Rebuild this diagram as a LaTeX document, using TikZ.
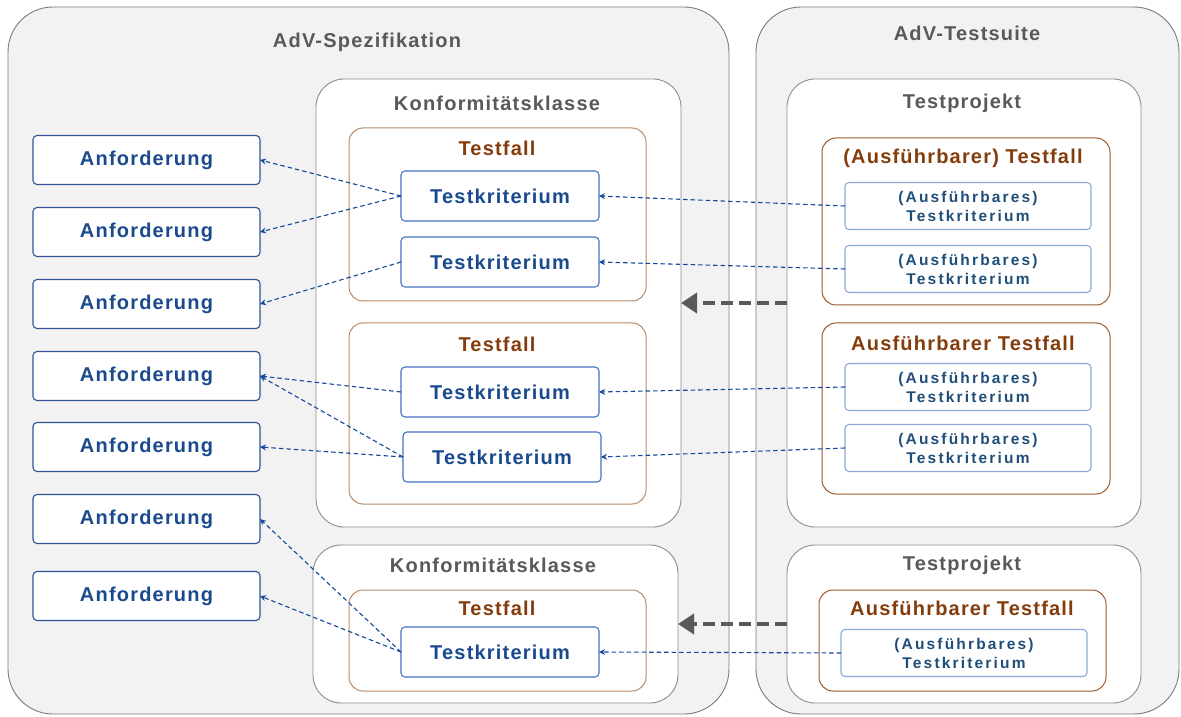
\documentclass[tikz,border=0pt]{standalone}
\usepackage{fontspec}
\setmainfont{Liberation Sans}
\newfontfamily\boxfont[LetterSpace=6]{Liberation Sans}
\newfontfamily\smallboxfont[LetterSpace=14]{Liberation Sans}
\usetikzlibrary{arrows.meta}
\definecolor{Panel}{HTML}{F2F2F2}
\definecolor{Frame}{HTML}{7A7A7A}
\definecolor{Inner}{HTML}{8C8C8C}
\definecolor{Title}{HTML}{595959}
\definecolor{Case}{HTML}{B98A66}
\definecolor{CaseDark}{HTML}{9E5A2E}
\definecolor{CaseText}{HTML}{843C0C}
\definecolor{Req}{HTML}{2F5597}
\definecolor{ReqText}{HTML}{1A4A8E}
\definecolor{Crit}{HTML}{4472C4}
\definecolor{CritLight}{HTML}{8EAADB}
\definecolor{CritText}{HTML}{1F4E79}
\definecolor{Link}{HTML}{14489A}
\definecolor{Big}{HTML}{5A5A5A}
\begin{document}
\begin{tikzpicture}[x=1pt,y=1pt,
  panel/.style={draw=Frame,fill=Panel,line width=0.9pt,rounded corners=45pt,inner sep=0pt,outer sep=0pt},
  group/.style={draw=Inner,fill=white,line width=0.9pt,rounded corners=28pt,inner sep=0pt,outer sep=0pt},
  casebox/.style={draw=Case,fill=white,line width=1pt,rounded corners=14pt,inner sep=0pt,outer sep=0pt},
  title/.style={font=\boxfont\bfseries\fontsize{20}{24}\selectfont,text=Title},
  casetitle/.style={font=\boxfont\bfseries\fontsize{20}{24}\selectfont,text=CaseText},
  req/.style={draw=Req,fill=white,line width=1.1pt,rounded corners=4pt,minimum width=227pt,minimum height=49pt,inner sep=0pt,outer sep=0pt,font=\boxfont\bfseries\fontsize{20}{24}\selectfont,text=ReqText},
  crit/.style={draw=Crit,fill=white,line width=1.1pt,rounded corners=4pt,minimum width=198pt,minimum height=50pt,inner sep=0pt,outer sep=0pt,font=\boxfont\bfseries\fontsize{20}{24}\selectfont,text=ReqText},
  xcrit/.style={draw=CritLight,fill=white,line width=1.1pt,rounded corners=4pt,minimum width=246pt,minimum height=47pt,inner sep=0pt,outer sep=0pt,align=center,font=\smallboxfont\bfseries\fontsize{15.5}{19}\selectfont,text=CritText},
  link/.style={draw=Link,line width=1.1pt,dash pattern=on 4.5pt off 3pt,-{Stealth[length=6pt,width=6pt]}},
  bigarrow/.style={draw=Big,line width=4pt,dash pattern=on 12pt off 6pt,-{Triangle[length=16pt,width=20pt]}}]
\useasboundingbox (0,0) rectangle (1181,716);
\node[panel,minimum width=721pt,minimum height=707pt] (spez) at (368.5,355.5) {};
\node[panel,minimum width=423pt,minimum height=707pt] (suite) at (967.5,355.5) {};
\node[title] (spezt) at (367,674) {AdV-Spezifikation};
\node[title] (suitet) at (967,683) {AdV-Testsuite};
\node[group,minimum width=365pt,minimum height=448pt] (konf1) at (498.5,413) {};
\node[group,minimum width=365pt,minimum height=158pt] (konf2) at (495.5,92) {};
\node[group,minimum width=354pt,minimum height=448pt] (tp1) at (964,413) {};
\node[group,minimum width=354pt,minimum height=158pt] (tp2) at (964,92) {};
\node[title] (konf1t) at (497,613) {Konformitätsklasse};
\node[title] (konf2t) at (493,151) {Konformitätsklasse};
\node[title] (tp1t) at (962,613) {Testprojekt};
\node[title] (tp2t) at (962,151) {Testprojekt};
\node[casebox,minimum width=297pt,minimum height=173pt] (tf1) at (497.5,501.5) {};
\node[casebox,minimum width=297pt,minimum height=181pt] (tf2) at (497.5,302.5) {};
\node[casebox,minimum width=297pt,minimum height=101pt] (tf3) at (497.5,75.5) {};
\node[casebox,draw=CaseDark,minimum width=288pt,minimum height=167pt] (atf1) at (966,494.5) {};
\node[casebox,draw=CaseDark,minimum width=288pt,minimum height=171pt] (atf2) at (966,307.5) {};
\node[casebox,draw=CaseDark,minimum width=287pt,minimum height=101pt] (atf3) at (962.5,75.5) {};
\node[casetitle] (tf1t) at (497,568) {Testfall};
\node[casetitle] (tf2t) at (497,372) {Testfall};
\node[casetitle] (tf3t) at (497,108) {Testfall};
\node[casetitle] (atf1t) at (963,558) {(Ausführbarer) Testfall};
\node[casetitle] (atf2t) at (963,373) {Ausführbarer Testfall};
\node[casetitle] (atf3t) at (962,108) {Ausführbarer Testfall};
\node[req] (anf1) at (146.5,556) {Anforderung};
\node[req] (anf2) at (146.5,484) {Anforderung};
\node[req] (anf3) at (146.5,412) {Anforderung};
\node[req] (anf4) at (146.5,340) {Anforderung};
\node[req] (anf5) at (146.5,269) {Anforderung};
\node[req] (anf6) at (146.5,197) {Anforderung};
\node[req] (anf7) at (146.5,120) {Anforderung};
\node[crit] (tk1a) at (500,520) {Testkriterium};
\node[crit] (tk1b) at (500,454) {Testkriterium};
\node[crit] (tk2a) at (500,324) {Testkriterium};
\node[crit] (tk2b) at (502,259) {Testkriterium};
\node[crit] (tk3) at (500,64) {Testkriterium};
\node[xcrit] (atk1a) at (968,510) {(Ausführbares)\\Testkriterium};
\node[xcrit] (atk1b) at (968,447) {(Ausführbares)\\Testkriterium};
\node[xcrit] (atk2a) at (968,329) {(Ausführbares)\\Testkriterium};
\node[xcrit] (atk2b) at (968,268) {(Ausführbares)\\Testkriterium};
\node[xcrit] (atk3) at (964,63) {(Ausführbares)\\Testkriterium};
\draw[bigarrow] (tp1.west) -- (konf1.east);
\draw[bigarrow] (tp2.west) -- (konf2.east);
\draw[link] (tk1a.west) -- (anf1.east);
\draw[link] (tk1a.west) -- (anf2.east);
\draw[link] (tk1b.west) -- (anf3.east);
\draw[link] (tk2a.west) -- (anf4.east);
\draw[link] (tk2b.west) -- (anf4.east);
\draw[link] (tk2b.west) -- (anf5.east);
\draw[link] (tk3.west) -- (anf6.east);
\draw[link] (tk3.west) -- (anf7.east);
\draw[link] (atk1a.west) -- (tk1a.east);
\draw[link] (atk1b.west) -- (tk1b.east);
\draw[link] (atk2a.west) -- (tk2a.east);
\draw[link] (atk2b.west) -- (tk2b.east);
\draw[link] (atk3.west) -- (tk3.east);
\end{tikzpicture}
\end{document}
